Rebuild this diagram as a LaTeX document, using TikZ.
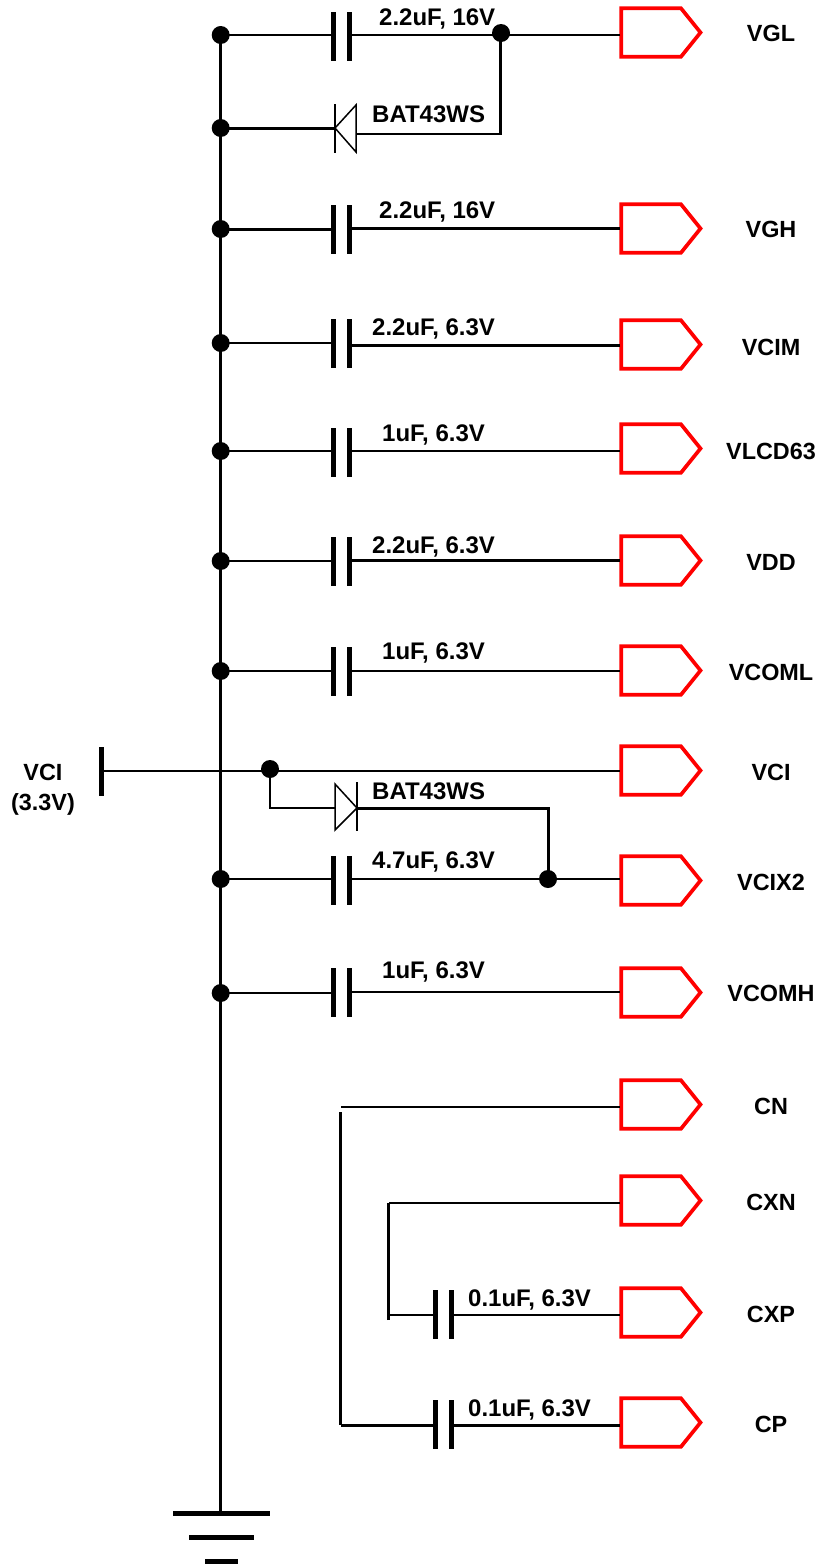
\documentclass[tikz,border=0pt]{standalone}
\usepackage{fontspec}
\setmainfont{Liberation Sans}
\definecolor{pinred}{RGB}{255,0,0}
\tikzset{
  wire/.style={draw=black,line width=2.2pt},
  thickwire/.style={draw=black,line width=3pt},
  junction/.style={circle,fill=black,inner sep=0pt,minimum size=18pt},
  plate/.style={rectangle,fill=black,inner sep=0pt,minimum width=5pt,minimum height=49pt},
  pinbox/.style={draw=pinred,line width=3.7pt,miter limit=4,fill=white},
  difthin/.style={draw=black,line width=1.5pt},
  txt/.style={font=\fontsize{23.4pt}{27pt}\selectfont\bfseries,inner sep=0pt,text=black,anchor=base},
  capt/.style={font=\fontsize{24pt}{27pt}\selectfont\bfseries,inner sep=0pt,text=black,anchor=base west},
  gbar/.style={rectangle,fill=black,inner sep=0pt,minimum height=5pt}
}
% pin: name, top y, wire y, label, label baseline
\newcommand{\pinsym}[5]{%
  \draw[pinbox] (621.3,#2+0.3) -- (681,#2+0.3) -- (700.5,#2+24.5) -- (681,#2+48.7) -- (621.3,#2+48.7) -- cycle;
  \coordinate (#1) at (620,#3);
  \node[txt] (#1lab) at (771,#5) {#4};
}
% capacitor: name, left plate x, centre y, label, label x, label baseline
\newcommand{\capsym}[6]{%
  \node[plate] (#1a) at (#2,#3) {};
  \node[plate] (#1b) at (#2+16,#3) {};
  \node[capt] (#1lab) at (#5,#6) {#4};
}
\begin{document}
\begin{tikzpicture}[x=1pt,y=-1pt]
\useasboundingbox (0,0) rectangle (819,1564);
% junctions on the bus
\node[junction] (j1) at (220.7,35) {};
\node[junction] (j2) at (220.7,128) {};
\node[junction] (j3) at (220.7,229) {};
\node[junction] (j4) at (220.7,343) {};
\node[junction] (j5) at (220.7,451) {};
\node[junction] (j6) at (220.7,561) {};
\node[junction] (j7) at (220.7,671) {};
\node[junction] (j8) at (220.7,879) {};
\node[junction] (j9) at (220.7,993) {};
\node[junction] (jr) at (501,33) {};
\node[junction] (jv) at (270,769) {};
\node[junction] (jx) at (548,879) {};
% ground
\node[gbar,minimum width=97pt] (g1) at (221.5,1513) {};
\node[gbar,minimum width=65pt] (g2) at (221.5,1537) {};
\node[gbar,minimum width=33pt] (g3) at (221.5,1561) {};
\draw[thickwire] (j1.center) -- (j1.center |- g1.center);
% pins
\pinsym{pVGL}{8}{35}{VGL}{41}
\pinsym{pVGH}{204}{228}{VGH}{237}
\pinsym{pVCIM}{320}{345}{VCIM}{355}
\pinsym{pVLCD}{424}{451}{VLCD63}{459}
\pinsym{pVDD}{536}{560}{VDD}{570}
\pinsym{pVCOML}{646}{671}{VCOML}{680}
\pinsym{pVCI}{746}{771}{VCI}{780}
\pinsym{pVCIX}{856}{879}{VCIX2}{890}
\pinsym{pVCOMH}{968}{992}{VCOMH}{1001}
\pinsym{pCN}{1080}{1107}{CN}{1114}
\pinsym{pCXN}{1176}{1203}{CXN}{1210}
\pinsym{pCXP}{1288}{1315}{CXP}{1322}
\pinsym{pCP}{1398}{1425}{CP}{1432}
% capacitors
\capsym{c1}{333.5}{36.5}{2.2uF, 16V}{379}{25}
\capsym{c2}{333.5}{229.5}{2.2uF, 16V}{379}{218}
\capsym{c3}{333.5}{343.5}{2.2uF, 6.3V}{372}{335}
\capsym{c4}{333.5}{452.5}{1uF, 6.3V}{382}{441}
\capsym{c5}{333.5}{561.5}{2.2uF, 6.3V}{372}{553}
\capsym{c6}{333.5}{671.5}{1uF, 6.3V}{382}{659}
\capsym{c7}{333.5}{880}{4.7uF, 6.3V}{372}{868}
\capsym{c8}{333.5}{992.5}{1uF, 6.3V}{382}{978}
\capsym{c9}{435.5}{1314.5}{0.1uF, 6.3V}{468}{1306}
\capsym{c10}{435.5}{1424.5}{0.1uF, 6.3V}{468}{1416}
% row wires
\draw[wire] (j1.center) -- (j1.center -| c1a.west);
\draw[wire] (pVGL) -- (pVGL -| c1b.east);
\draw[thickwire] (j3.center) -- (j3.center -| c2a.west);
\draw[thickwire] (pVGH) -- (pVGH -| c2b.east);
\draw[wire] (j4.center) -- (j4.center -| c3a.west);
\draw[thickwire] (pVCIM) -- (pVCIM -| c3b.east);
\draw[wire] (j5.center) -- (j5.center -| c4a.west);
\draw[wire] (pVLCD) -- (pVLCD -| c4b.east);
\draw[wire] (j6.center) -- (j6.center -| c5a.west);
\draw[thickwire] (pVDD) -- (pVDD -| c5b.east);
\draw[wire] (j7.center) -- (j7.center -| c6a.west);
\draw[wire] (pVCOML) -- (pVCOML -| c6b.east);
\draw[wire] (j8.center) -- (j8.center -| c7a.west);
\draw[wire] (pVCIX) -- (pVCIX -| c7b.east);
\draw[wire] (j9.center) -- (j9.center -| c8a.west);
\draw[wire] (pVCOMH) -- (pVCOMH -| c8b.east);
% upper diode
\coordinate (d1tip) at (335,128);
\coordinate (d1base) at (356,134);
\coordinate (d1end) at (500.5,134);
\draw[thickwire] (j2.center) -- (d1tip);
\draw[difthin] (335,104) -- (335,153);
\draw[difthin] (d1tip) -- (356,105) -- (356,152) -- cycle;
\node[capt] (d1lab) at (372,122) {BAT43WS};
\draw[wire] (d1base) -- (d1end) -- (d1end |- jr.center);
% VCI rail
\node[rectangle,fill=black,inner sep=0pt,minimum width=5pt,minimum height=49pt] (vbar) at (101,771) {};
\draw[wire] (vbar.center) -- (pVCI);
\node[txt] (vlab1) at (43,780) {VCI};
\node[txt] (vlab2) at (43,810) {(3.3V)};
% lower diode
\coordinate (d2in) at (335,808);
\coordinate (d2out) at (357,808);
\coordinate (d2turn) at (548,808);
\draw[wire] (jv.center) -- (jv.center |- d2in) -- (d2in);
\draw[difthin] (357,782) -- (357,831);
\draw[difthin] (d2out) -- (335,784) -- (335,830) -- cycle;
\node[capt] (d2lab) at (372,799) {BAT43WS};
\draw[thickwire] (d2out) -- (d2turn) -- (jx.center);
% CN / CXN / CXP / CP wiring
\coordinate (cnv) at (340.5,1112);
\coordinate (cxv) at (388.5,1320);
\draw[wire] (pCN) -- (pCN -| cnv);
\draw[thickwire] (cnv) -- (cnv |- pCP);
\draw[thickwire] (cnv |- pCP) -- (pCP -| c10a.west);
\draw[thickwire] (pCP) -- (pCP -| c10b.east);
\draw[wire] (pCXN) -- (pCXN -| cxv);
\draw[thickwire] (cxv) -- (cxv |- pCXN);
\draw[wire] (cxv |- pCXP) -- (pCXP -| c9a.west);
\draw[wire] (pCXP) -- (pCXP -| c9b.east);
\end{tikzpicture}
\end{document}
